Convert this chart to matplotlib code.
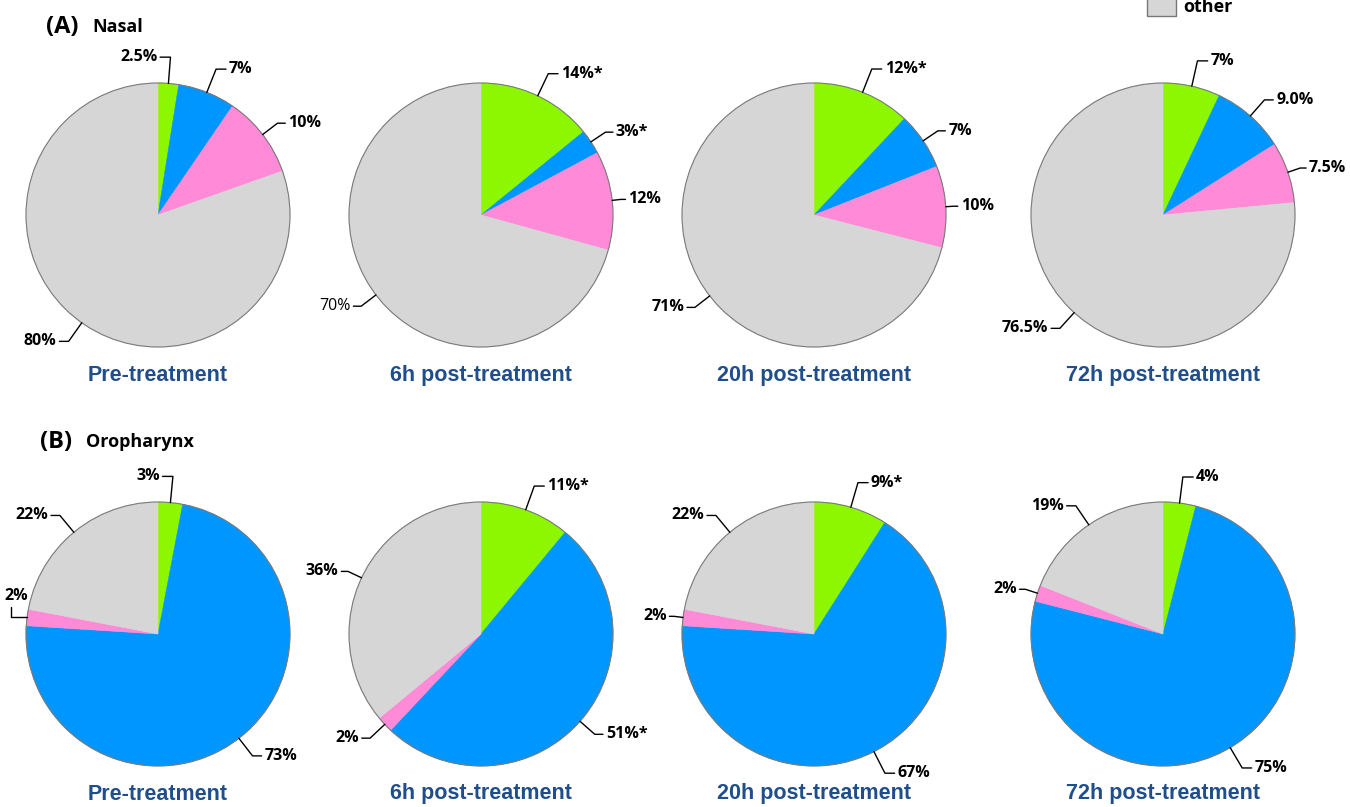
import numpy as np
import matplotlib
matplotlib.use("Agg")
import matplotlib.pyplot as plt
from matplotlib.patches import Circle, Rectangle

# slice order: green, blue, pink, other (clockwise from 12 o'clock)
colors = ["#8cf700", "#0096ff", "#ff8ad8", "#d6d6d6"]
titles = ["Pre-treatment", "6h post-treatment", "20h post-treatment", "72h post-treatment"]

nasal_vals = [
    [2.5, 7, 10, 80],
    [14, 3, 12, 70],
    [12, 7, 10, 71],
    [7, 9.0, 7.5, 76.5],
]
nasal_labels = [
    ["2.5%", "7%", "10%", "80%"],
    ["14%*", "3%*", "12%", "70%"],
    ["12%*", "7%", "10%", "71%"],
    ["7%", "9.0%", "7.5%", "76.5%"],
]
oro_vals = [
    [3, 73, 2, 22],
    [11, 51, 2, 36],
    [9, 67, 2, 22],
    [4, 75, 2, 19],
]
oro_labels = [
    ["3%", "73%", "2%", "22%"],
    ["11%*", "51%*", "2%", "36%"],
    ["9%*", "67%", "2%", "22%"],
    ["4%", "75%", "2%", "19%"],
]
# labels drawn in regular weight (row, pie, slice)
regular_labels = {(0, 1, 3)}
# labels sitting above their leader (no room at the figure edge)
raised_labels = {(1, 0, 2)}

W, H = 1350, 807
fig = plt.figure(figsize=(W / 100, H / 100), dpi=100)

centers_x = [158, 481, 814, 1163]
centers_y = [215, 634]
side = 330
lim = 1.25
title_col = "#1f4e8a"
lab_font = ["Open Sans", "DejaVu Sans"]


def draw_pie(row, col, vals, labels):
    cx, cy = centers_x[col], centers_y[row]
    ax = fig.add_axes([(cx - side / 2) / W, (H - cy - side / 2) / H, side / W, side / H])
    wedges, _ = ax.pie(vals, colors=colors, startangle=90, counterclock=False,
                       radius=1, wedgeprops=dict(linewidth=0.4))
    for w in wedges:
        w.set_edgecolor(w.get_facecolor())
    ax.add_patch(Circle((0, 0), 1, fill=False, ec="#7a7a7a", lw=0.8))
    ax.set_xlim(-lim, lim)
    ax.set_ylim(-lim, lim)
    ax.set_aspect("equal")
    ax.axis("off")
    for i, (w, lab) in enumerate(zip(wedges, labels)):
        th = (w.theta1 + w.theta2) / 2
        th = (th + 180) % 360 - 180
        t = np.deg2rad(th)
        ex, ey = np.cos(t), np.sin(t)
        weight = "normal" if (row, col, i) in regular_labels else "bold"
        kw = dict(fontsize=11.5, fontweight=weight, family=lab_font, annotation_clip=False)
        if (row, col, i) in raised_labels:
            ax.annotate(lab, xy=(ex, ey), xytext=(ex - 0.08, ey + 0.1),
                        ha="center", va="bottom", **kw,
                        arrowprops=dict(arrowstyle="-", color="black", lw=1.0,
                                        shrinkA=0, shrinkB=0, relpos=(0.25, 0),
                                        connectionstyle="angle,angleA=-90,angleB=180,rad=0"))
            continue
        s = abs(np.sin(t))
        r_el = 1.05 + 0.15 * s
        elx, ely = r_el * ex, r_el * ey
        side_dir = 1 if -90 < th < 84 else -1
        tx = elx + side_dir * (0.05 + 0.05 * s)
        ax.annotate(lab, xy=(ex, ey), xytext=(tx, ely),
                    ha="left" if side_dir > 0 else "right", va="center", **kw,
                    arrowprops=dict(arrowstyle="-", color="black", lw=1.0,
                                    shrinkA=0, shrinkB=0,
                                    connectionstyle="angle,angleA=0,angleB=%f,rad=0" % th))
    fig.text(cx / W, 1 - (cy + 160) / H, titles[col], ha="center", va="center",
             fontsize=15.5, fontweight="bold", color=title_col, family="Liberation Sans")


for c in range(4):
    draw_pie(0, c, nasal_vals[c], nasal_labels[c])
    draw_pie(1, c, oro_vals[c], oro_labels[c])

# panel headings
fig.text(46 / W, 1 - 33 / H, "(A)", fontsize=17, fontweight="bold", family=lab_font, va="baseline")
fig.text(92 / W, 1 - 32 / H, "Nasal", fontsize=13, fontweight="bold", family=lab_font, va="baseline")
fig.text(40 / W, 1 - 448 / H, "(B)", fontsize=17, fontweight="bold", family=lab_font, va="baseline")
fig.text(86 / W, 1 - 447 / H, "Oropharynx", fontsize=13, fontweight="bold", family=lab_font, va="baseline")

# legend entry (top cut off as in the original)
fig.add_artist(Rectangle((1147 / W, 1 - 16 / H), 29 / W, 20 / H, transform=fig.transFigure,
                         fc="#d6d6d6", ec="#777777", lw=1.0))
fig.text(1183 / W, 1 - 12 / H, "other", fontsize=13, fontweight="bold", family=lab_font, va="baseline")

fig.savefig("out.png", dpi=100)
